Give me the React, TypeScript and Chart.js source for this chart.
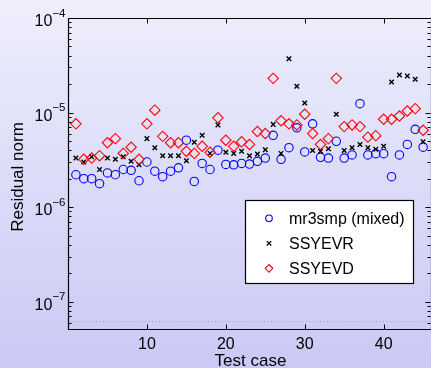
import React, { useEffect, useRef } from 'react';
import { Chart, registerables } from 'chart.js';

Chart.register(...registerables);

// ---- data ----
const caseNumbers = [1, 2, 3, 4, 5, 6, 7, 8, 9, 10, 11, 12, 13, 14, 15, 16, 17, 18, 19, 20, 21, 22, 23, 24, 25, 26, 27, 28, 29, 30, 31, 32, 33, 34, 35, 36, 37, 38, 39, 40, 41, 42, 43, 44, 45];

const mr3smpMixed = [
  2.2e-6, 2.0e-6, 2.0e-6, 1.77e-6, 2.3e-6, 2.2e-6, 2.5e-6, 2.45e-6, 1.9e-6, 3.0e-6,
  2.4e-6, 2.1e-6, 2.4e-6, 2.6e-6, 5.1e-6, 1.87e-6, 2.9e-6, 2.5e-6, 4.0e-6, 2.83e-6,
  2.8e-6, 2.9e-6, 2.85e-6, 3.05e-6, 3.3e-6, 5.75e-6, 3.2e-6, 4.25e-6, 6.9e-6, 3.83e-6,
  7.6e-6, 3.36e-6, 3.3e-6, 4.97e-6, 3.3e-6, 3.56e-6, 1.24e-5, 3.56e-6, 3.67e-6, 3.67e-6,
  2.1e-6, 3.56e-6, 4.6e-6, 6.65e-6, 4.3e-6,
];

const ssyevr = [
  3.3e-6, 3.0e-6, 3.4e-6, 2.5e-6, 3.3e-6, 3.2e-6, 3.4e-6, 3.05e-6, 2.8e-6, 5.3e-6,
  4.25e-6, 3.5e-6, 3.5e-6, 3.5e-6, 3.1e-6, 4.85e-6, 5.75e-6, 3.7e-6, 7.4e-6, 3.8e-6,
  3.7e-6, 3.9e-6, 3.5e-6, 3.65e-6, 4.05e-6, 7.5e-6, 3.7e-6, 3.7e-5, 1.9e-5, 1.26e-5,
  3.96e-6, 3.9e-6, 4.15e-6, 9.6e-6, 3.96e-6, 4.25e-6, 4.6e-6, 4.25e-6, 4.1e-6, 4.4e-6,
  2.1e-5, 2.5e-5, 2.43e-5, 2.25e-5, 4.9e-6,
];

const ssyevd = [
  7.6e-6, 3.2e-6, 3.3e-6, 3.5e-6, 4.8e-6, 5.3e-6, 3.7e-6, 4.3e-6, 3.2e-6, 7.6e-6,
  1.06e-5, 5.6e-6, 4.8e-6, 4.8e-6, 3.9e-6, 3.7e-6, 4.4e-6, 3.8e-6, 8.8e-6, 5.1e-6,
  4.4e-6, 4.9e-6, 4.6e-6, 6.3e-6, 6.0e-6, 2.3e-5, 8.2e-6, 7.6e-6, 7.4e-6, 9.6e-6,
  6.0e-6, 4.6e-6, 5.3e-6, 2.3e-5, 7.1e-6, 7.4e-6, 7.1e-6, 5.5e-6, 5.7e-6, 8.5e-6,
  8.5e-6, 9.2e-6, 1.04e-5, 1.1e-5, 6.5e-6,
];

const seriesLabels = ['mr3smp (mixed)', 'SSYEVR', 'SSYEVD'];
const yDecadeExponents = [-7, -6, -5, -4];
const xTickValues = [10, 20, 30, 40];
const referenceLevel = 6.15e-8;
const xMin = 0;
const xMax = 46;
const yMin = 5.14e-8;
const yMax = 1e-4;
const xTitle = 'Test case';
const yTitle = 'Residual norm';

const FONT = '"Liberation Sans", Arial, Helvetica, sans-serif';

function drawMarker(ctx: CanvasRenderingContext2D, kind: string, x: number, y: number, r: number, color: string, lw: number) {
  ctx.save();
  ctx.strokeStyle = color;
  ctx.lineWidth = lw;
  ctx.beginPath();
  if (kind === 'circle') {
    ctx.arc(x, y, r, 0, Math.PI * 2);
  } else if (kind === 'cross') {
    ctx.moveTo(x - r, y - r);
    ctx.lineTo(x + r, y + r);
    ctx.moveTo(x - r, y + r);
    ctx.lineTo(x + r, y - r);
  } else {
    ctx.moveTo(x, y - r);
    ctx.lineTo(x + r, y);
    ctx.lineTo(x, y + r);
    ctx.lineTo(x - r, y);
    ctx.closePath();
  }
  ctx.stroke();
  ctx.restore();
}

const axesPlugin = {
  id: 'matlabAxes',
  afterDraw(chart: any) {
    const ctx: CanvasRenderingContext2D = chart.ctx;
    const xs = chart.scales.x;
    const ys = chart.scales.y;
    const { left, right, top, bottom } = chart.chartArea;
    const L = Math.round(left) + 0.5;
    const R = Math.round(right) + 0.5;
    const T = Math.round(top) + 0.5;
    const B = Math.round(bottom) + 0.5;

    ctx.save();
    ctx.strokeStyle = '#000';
    ctx.lineWidth = 1.2;
    ctx.beginPath();
    ctx.moveTo(L, T);
    ctx.lineTo(L, B);
    ctx.lineTo(R, B);
    ctx.moveTo(L, T);
    ctx.lineTo(R, T);
    ctx.lineTo(R, B);
    ctx.stroke();

    // y ticks (log, major + minor), inward on both sides
    ctx.lineWidth = 1;
    ctx.beginPath();
    for (let e = -8; e <= -4; e++) {
      for (let m = 1; m <= 9; m++) {
        const v = m * Math.pow(10, e);
        if (v < yMin * 0.999 || v > yMax * 1.001) continue;
        const py = Math.round(ys.getPixelForValue(v)) + 0.5;
        const len = m === 1 ? 5 : 3;
        ctx.moveTo(L, py);
        ctx.lineTo(L + len, py);
        ctx.moveTo(R - 1, py);
        ctx.lineTo(R - 1 - len, py);
      }
    }
    // x ticks
    xTickValues.forEach((v) => {
      const px = Math.round(xs.getPixelForValue(v)) + 0.5;
      ctx.moveTo(px, B);
      ctx.lineTo(px, B - 5);
      ctx.moveTo(px, T);
      ctx.lineTo(px, T + 5);
    });
    ctx.stroke();

    // y tick labels 10^e
    ctx.fillStyle = '#000';
    ctx.textBaseline = 'alphabetic';
    yDecadeExponents.forEach((e) => {
      const py = ys.getPixelForValue(Math.pow(10, e));
      const exp = '\u2212' + String(-e);
      ctx.font = `11.5px ${FONT}`;
      ctx.textAlign = 'right';
      const expW = ctx.measureText(exp).width;
      const xr = left - 2.5;
      ctx.fillText(exp, xr, py - 1.3);
      ctx.font = `16px ${FONT}`;
      ctx.fillText('10', xr - expW, py + 8);
    });

    // x tick labels
    ctx.font = `16px ${FONT}`;
    ctx.textAlign = 'center';
    xTickValues.forEach((v) => {
      const px = xs.getPixelForValue(v);
      ctx.fillText(String(v), px, bottom + 20);
    });

    // axis titles
    ctx.font = `17px ${FONT}`;
    ctx.textAlign = 'center';
    ctx.fillText(xTitle, (left + right) / 2 + 1, 366);
    ctx.save();
    ctx.translate(23, 177);
    ctx.rotate(-Math.PI / 2);
    ctx.fillText(yTitle, 0, 0);
    ctx.restore();

    // legend
    const lx0 = 245.5;
    const ly0 = 200.5;
    const lw = 168;
    const lh = 83;
    ctx.fillStyle = '#fff';
    ctx.fillRect(lx0, ly0, lw, lh);
    ctx.strokeStyle = '#000';
    ctx.lineWidth = 1.2;
    ctx.strokeRect(lx0, ly0, lw, lh);
    const rows = [218.3, 243.3, 268.3];
    const kinds = ['circle', 'cross', 'diamond'];
    const colors = ['#0000ff', '#000000', '#ff0000'];
    const radii = [3.3, 2.2, 3.8];
    const widths = [1.1, 1.3, 1.1];
    ctx.font = `16px ${FONT}`;
    ctx.textAlign = 'left';
    rows.forEach((ry, i) => {
      drawMarker(ctx, kinds[i], 269, ry, radii[i], colors[i], widths[i]);
      ctx.fillStyle = '#000';
      ctx.fillText(seriesLabels[i], 289, ry + 5.7);
    });
    ctx.restore();
  },
};

export default function App() {
  const canvasRef = useRef<HTMLCanvasElement | null>(null);

  useEffect(() => {
    if (!canvasRef.current) return;
    const toPoints = (vals: number[]) => caseNumbers.map((c, i) => ({ x: c, y: vals[i] }));
    const chart = new Chart(canvasRef.current, {
      type: 'scatter',
      data: {
        datasets: [
          {
            label: seriesLabels[0],
            data: toPoints(mr3smpMixed),
            pointStyle: 'circle',
            pointRadius: 4.2,
            pointBorderWidth: 1.1,
            borderColor: '#0000ff',
            backgroundColor: 'rgba(0,0,0,0)',
            order: 3,
          },
          {
            label: seriesLabels[1],
            data: toPoints(ssyevr),
            pointStyle: 'crossRot',
            pointRadius: 3.2,
            pointBorderWidth: 1.4,
            borderColor: '#000000',
            backgroundColor: 'rgba(0,0,0,0)',
            order: 2,
          },
          {
            label: seriesLabels[2],
            data: toPoints(ssyevd),
            pointStyle: 'rectRot',
            pointRadius: 5.2,
            pointBorderWidth: 1.1,
            borderColor: '#ff0000',
            backgroundColor: 'rgba(0,0,0,0)',
            order: 1,
          },
          {
            type: 'line',
            label: 'reference',
            data: [
              { x: xMin, y: referenceLevel },
              { x: xMax, y: referenceLevel },
            ],
            borderColor: '#9c9cb4',
            borderWidth: 1,
            borderDash: [1, 2.5],
            pointRadius: 0,
            order: 4,
          } as any,
        ],
      },
      options: {
        animation: false,
        responsive: false,
        maintainAspectRatio: false,
        events: [],
        layout: { autoPadding: false, padding: { top: 18, left: 0, right: 0, bottom: 0 } },
        plugins: {
          legend: { display: false },
          tooltip: { enabled: false },
          title: { display: false },
        },
        scales: {
          x: {
            type: 'linear',
            min: xMin,
            max: xMax,
            grid: { display: false },
            border: { display: false },
            ticks: { display: false },
            afterFit: (s: any) => {
              s.height = 39;
            },
          },
          y: {
            type: 'logarithmic',
            min: yMin,
            max: yMax,
            grid: { display: false },
            border: { display: false },
            ticks: { display: false },
            afterFit: (s: any) => {
              s.width = 68;
            },
          },
        },
      },
      plugins: [axesPlugin],
    });
    return () => chart.destroy();
  }, []);

  return (
    <div
      style={{
        position: 'fixed',
        left: 0,
        top: 0,
        width: 431,
        height: 368,
        background: 'linear-gradient(to bottom, #eeeefc, #c9c9f5)',
      }}
    >
      <canvas ref={canvasRef} width={431} height={368} style={{ display: 'block' }} />
    </div>
  );
}
